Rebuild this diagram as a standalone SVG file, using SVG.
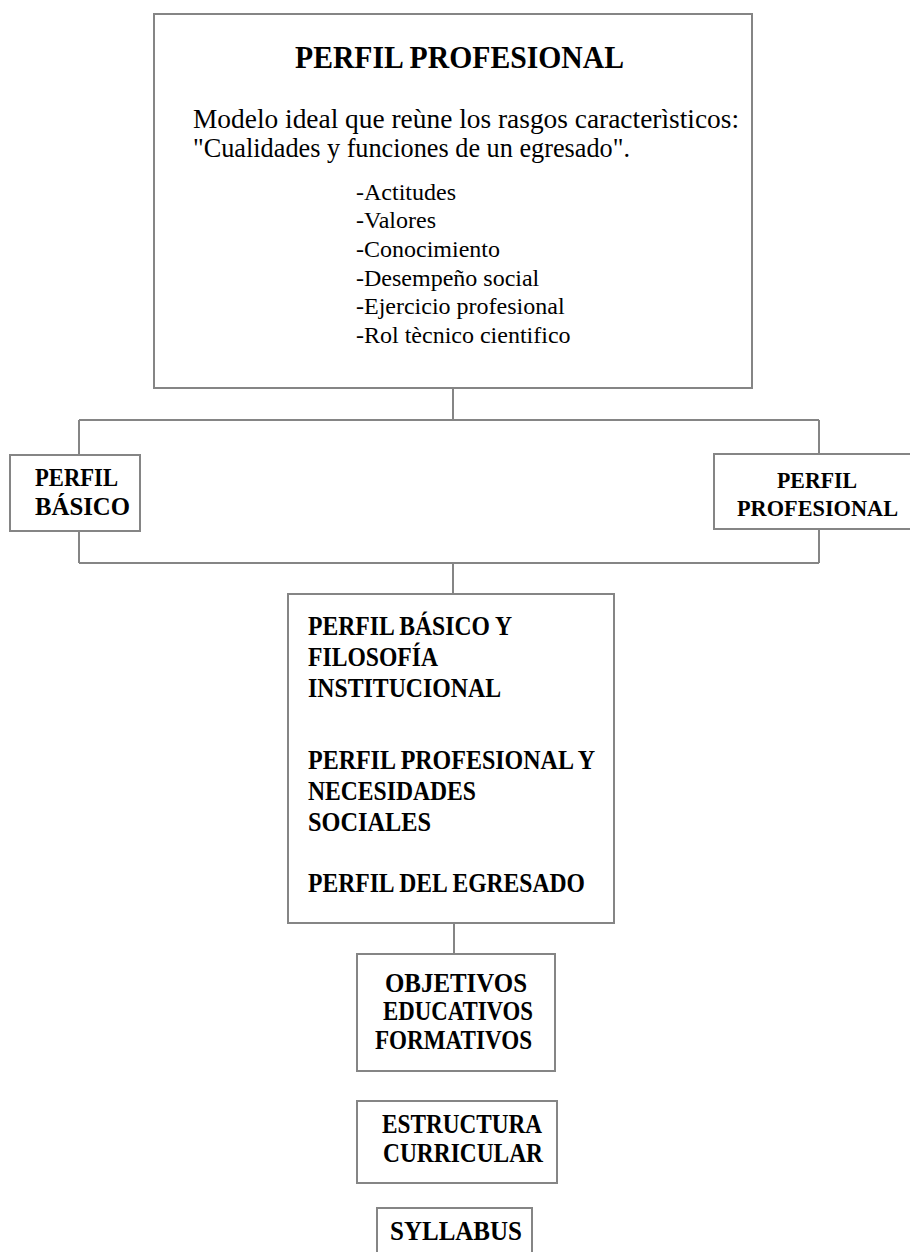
<svg xmlns="http://www.w3.org/2000/svg" width="910" height="1252" viewBox="0 0 910 1252">
<style>
.box{fill:#fff;stroke:#858585;stroke-width:2}
.ln{fill:none;stroke:#858585;stroke-width:2}
.t{font-family:"Liberation Serif","Times New Roman",serif;fill:#000}
.b{font-weight:bold}
</style>
<rect width="910" height="1252" fill="#fff"/>
<g id="connectors">
<path class="ln" d="M453 388V420M79 420H819M79 420V455M819 420V454"/>
<path class="ln" d="M79 531V563M819 529V563M79 563H819M453 563V594"/>
<path class="ln" d="M454 923V954"/>
</g>
<g id="perfil-profesional-main">
<rect class="box" x="154" y="14" width="598" height="374"/>
<text class="t b" x="295" y="68" font-size="31" textLength="329" lengthAdjust="spacingAndGlyphs">PERFIL PROFESIONAL</text>
<text class="t" x="193" y="128" font-size="27" textLength="546" lengthAdjust="spacingAndGlyphs">Modelo ideal que reùne los rasgos caracterìsticos:</text>
<text class="t" x="193" y="157" font-size="27" textLength="437" lengthAdjust="spacingAndGlyphs">"Cualidades y funciones de un egresado".</text>
<text class="t" x="356" y="200" font-size="24">-Actitudes</text>
<text class="t" x="356" y="228" font-size="24">-Valores</text>
<text class="t" x="356" y="257" font-size="24">-Conocimiento</text>
<text class="t" x="356" y="286" font-size="24">-Desempeño social</text>
<text class="t" x="356" y="314" font-size="24">-Ejercicio profesional</text>
<text class="t" x="356" y="343" font-size="24">-Rol tècnico cientifico</text>
</g>
<g id="perfil-basico">
<rect class="box" x="10" y="455" width="130" height="76"/>
<text class="t b" x="35" y="486" font-size="25" textLength="83" lengthAdjust="spacingAndGlyphs">PERFIL</text>
<text class="t b" x="35" y="515" font-size="25" textLength="95" lengthAdjust="spacingAndGlyphs">BÁSICO</text>
</g>
<g id="perfil-profesional-right">
<rect class="box" x="714" y="454" width="197" height="75"/>
<text class="t b" x="777" y="488" font-size="24" textLength="80" lengthAdjust="spacingAndGlyphs">PERFIL</text>
<text class="t b" x="737" y="516" font-size="23" textLength="161" lengthAdjust="spacingAndGlyphs">PROFESIONAL</text>
</g>
<g id="perfil-combinado">
<rect class="box" x="288" y="594" width="326" height="329"/>
<text class="t b" x="308" y="635" font-size="27" textLength="204" lengthAdjust="spacingAndGlyphs">PERFIL BÁSICO Y</text>
<text class="t b" x="308" y="666" font-size="27" textLength="130" lengthAdjust="spacingAndGlyphs">FILOSOFÍA</text>
<text class="t b" x="308" y="697" font-size="27" textLength="193" lengthAdjust="spacingAndGlyphs">INSTITUCIONAL</text>
<text class="t b" x="308" y="769" font-size="27" textLength="287" lengthAdjust="spacingAndGlyphs">PERFIL PROFESIONAL Y</text>
<text class="t b" x="308" y="800" font-size="27" textLength="168" lengthAdjust="spacingAndGlyphs">NECESIDADES</text>
<text class="t b" x="308" y="831" font-size="27" textLength="123" lengthAdjust="spacingAndGlyphs">SOCIALES</text>
<text class="t b" x="308" y="892" font-size="27" textLength="277" lengthAdjust="spacingAndGlyphs">PERFIL DEL EGRESADO</text>
</g>
<g id="objetivos">
<rect class="box" x="357" y="954" width="198" height="117"/>
<text class="t b" x="385" y="992" font-size="27" textLength="142" lengthAdjust="spacingAndGlyphs">OBJETIVOS</text>
<text class="t b" x="383" y="1020" font-size="27" textLength="150" lengthAdjust="spacingAndGlyphs">EDUCATIVOS</text>
<text class="t b" x="375" y="1049" font-size="27" textLength="157" lengthAdjust="spacingAndGlyphs">FORMATIVOS</text>
</g>
<g id="estructura">
<rect class="box" x="357" y="1101" width="200" height="82"/>
<text class="t b" x="382" y="1133" font-size="27" textLength="160" lengthAdjust="spacingAndGlyphs">ESTRUCTURA</text>
<text class="t b" x="383" y="1162" font-size="27" textLength="160" lengthAdjust="spacingAndGlyphs">CURRICULAR</text>
</g>
<g id="syllabus">
<rect class="box" x="377" y="1208" width="155" height="60"/>
<text class="t b" x="390" y="1240" font-size="27" textLength="132" lengthAdjust="spacingAndGlyphs">SYLLABUS</text>
</g>
</svg>
